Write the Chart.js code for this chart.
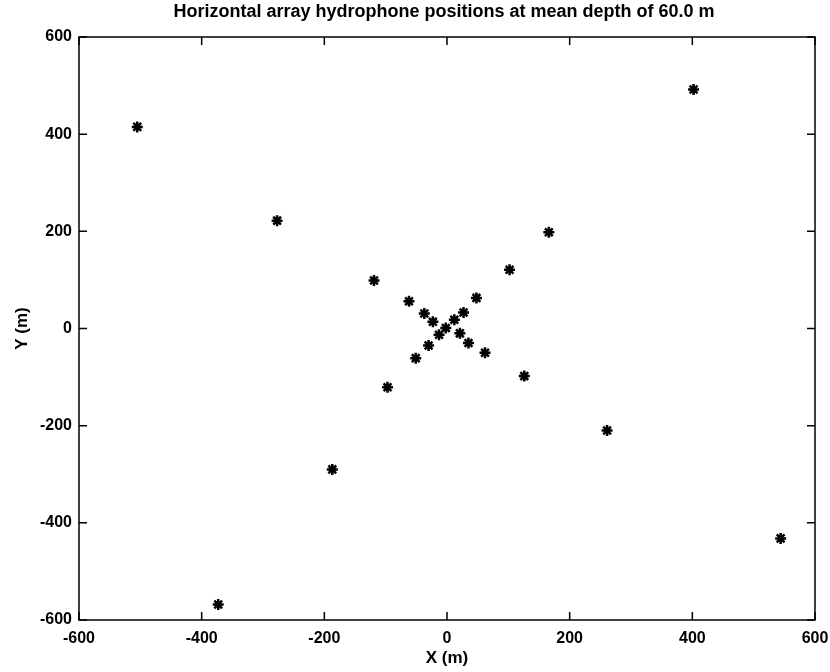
<!DOCTYPE html>
<html>
<head>
<meta charset="utf-8">
<script src="https://cdn.jsdelivr.net/npm/chart.js@4.4.1/dist/chart.umd.min.js"></script>
<style>
  html, body { margin: 0; padding: 0; background: #fff; overflow: hidden; }
  #wrap { width: 830px; height: 672px; }
</style>
</head>
<body>
<div id="wrap"><canvas id="chart" width="830" height="672"></canvas></div>
<script>
// hydrophone positions (metres)
var xPos = [-505, -277, 402, 166, -119, 102, -62, 48, -37, -23, 27, 12, -2, -13, 21, 35, -30, 62, -51, 126, -97, -187, 261, -373, 544];
var yPos = [415, 222, 492, 198, 99, 121, 56, 63, 31, 14, 33, 18, 1, -13, -10, -30, -35, -50, -61, -98, -121, -290, -210, -568, -432];
var tickVals = [-600, -400, -200, 0, 200, 400, 600];

var titleText = 'Horizontal array hydrophone positions at mean depth of 60.0 m';
var fontFam = '"Liberation Sans", Arial, Helvetica, sans-serif';

var points = xPos.map(function(x, i){ return {x: x, y: yPos[i]}; });

// box + inward ticks on all four sides (matlab style), title centred over the axes box
var boxTicks = {
    id: 'boxTicks',
    afterDraw: function(chart){
        var ctx = chart.ctx, a = chart.chartArea;
        var sx = chart.scales.x, sy = chart.scales.y;
        var len = 8;
        ctx.save();
        ctx.strokeStyle = '#000';
        ctx.lineWidth = 1.5;
        ctx.strokeRect(a.left, a.top, a.right - a.left, a.bottom - a.top);
        ctx.beginPath();
        tickVals.forEach(function(v){
            var px = sx.getPixelForValue(v);
            ctx.moveTo(px, a.bottom); ctx.lineTo(px, a.bottom - len);
            ctx.moveTo(px, a.top); ctx.lineTo(px, a.top + len);
            var py = sy.getPixelForValue(v);
            ctx.moveTo(a.left, py); ctx.lineTo(a.left + len, py);
            ctx.moveTo(a.right, py); ctx.lineTo(a.right - len, py);
        });
        ctx.stroke();

        ctx.fillStyle = '#000';
        ctx.font = 'bold 18px ' + fontFam;
        ctx.textAlign = 'center';
        ctx.textBaseline = 'alphabetic';
        ctx.fillText(titleText, (a.left + a.right) / 2 - 3, 17);
        ctx.restore();
    }
};

new Chart(document.getElementById('chart'), {
    type: 'scatter',
    data: {
        datasets: [{
            data: points,
            pointStyle: 'star',
            pointRadius: 5.5,
            borderWidth: 2.5,
            borderColor: '#000',
            backgroundColor: '#000'
        }]
    },
    options: {
        responsive: false,
        animation: false,
        layout: { padding: { left: 0, right: 0, top: 37, bottom: 0 } },
        plugins: {
            legend: { display: false },
            tooltip: { enabled: false },
            title: { display: false }
        },
        scales: {
            x: {
                type: 'linear',
                min: -600, max: 600,
                grid: { display: false, drawTicks: false },
                border: { display: false },
                ticks: {
                    stepSize: 200,
                    color: '#000',
                    padding: 9,
                    font: { family: fontFam, size: 16, weight: 'bold' }
                },
                title: {
                    display: true,
                    text: 'X (m)',
                    color: '#000',
                    padding: { top: 0, bottom: 3 },
                    font: { family: fontFam, size: 17, weight: 'bold' }
                },
                afterFit: function(s){
                    s.height = 52;
                    s.paddingLeft = 0;
                    s.paddingRight = 15;
                }
            },
            y: {
                type: 'linear',
                min: -600, max: 600,
                grid: { display: false, drawTicks: false },
                border: { display: false },
                ticks: {
                    stepSize: 200,
                    color: '#000',
                    padding: 7,
                    font: { family: fontFam, size: 16, weight: 'bold' }
                },
                title: {
                    display: true,
                    text: 'Y (m)',
                    color: '#000',
                    padding: { top: 12, bottom: 0 },
                    font: { family: fontFam, size: 17, weight: 'bold' }
                },
                afterFit: function(s){ s.width = 79; }
            }
        }
    },
    plugins: [boxTicks]
});
</script>
</body>
</html>
